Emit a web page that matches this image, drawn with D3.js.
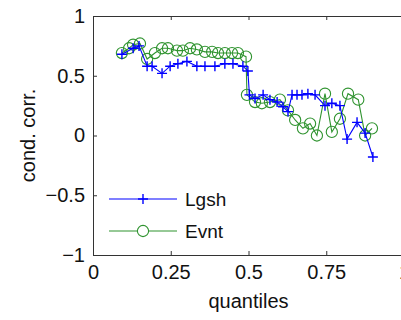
<!DOCTYPE html>
<html>
<head>
<meta charset="utf-8">
<script src="https://cdn.jsdelivr.net/npm/d3@7"></script>
<style>
  body { margin: 0; background: #fff; }
  text { font-family: "Liberation Sans", Arial, sans-serif; }
</style>
</head>
<body>
<div id="canvas"></div>
<script>
const canvWidth = 401, canvHeight = 320;

// Lgsh series (blue, plus markers)
const lgshX = [0.093, 0.129, 0.148, 0.174, 0.190, 0.222, 0.248, 0.273, 0.302, 0.334,
    0.360, 0.392, 0.424, 0.450, 0.482, 0.498, 0.503, 0.521, 0.547, 0.569,
    0.592, 0.611, 0.627, 0.640, 0.656, 0.672, 0.691, 0.714, 0.746, 0.768,
    0.794, 0.817, 0.849, 0.875, 0.900];
const lgshY = [0.68, 0.73, 0.75, 0.58, 0.58, 0.52, 0.58, 0.60, 0.62, 0.58,
    0.58, 0.58, 0.60, 0.60, 0.58, 0.54, 0.34, 0.31, 0.34, 0.30,
    0.28, 0.24, 0.20, 0.34, 0.34, 0.34, 0.35, 0.34, 0.25, 0.27,
    0.25, -0.03, 0.11, 0.02, -0.18];

// Evnt series (green, circle markers)
const evntX = [0.093, 0.116, 0.129, 0.151, 0.174, 0.199, 0.222, 0.241, 0.270, 0.289,
    0.312, 0.334, 0.360, 0.383, 0.402, 0.424, 0.447, 0.466, 0.492, 0.495,
    0.521, 0.543, 0.569, 0.601, 0.627, 0.650, 0.675, 0.698, 0.720, 0.746,
    0.768, 0.794, 0.820, 0.853, 0.875, 0.897];
const evntY = [0.69, 0.73, 0.76, 0.77, 0.64, 0.69, 0.73, 0.73, 0.71, 0.71,
    0.73, 0.72, 0.70, 0.70, 0.69, 0.69, 0.69, 0.69, 0.66, 0.34,
    0.28, 0.27, 0.28, 0.30, 0.21, 0.13, 0.06, 0.10, 0.00, 0.35,
    0.03, 0.14, 0.35, 0.30, 0.00, 0.06];

const xTicks = [0, 0.25, 0.5, 0.75, 1];
const xTickLabels = ["0", "0.25", "0.5", "0.75", "1"];
const yTicks = [-1, -0.5, 0, 0.5, 1];
const yTickLabels = ["\u22121", "\u22120.5", "0", "0.5", "1"];
const legendNames = ["Lgsh", "Evnt"];

const blue = "#0000ff", green = "#2f932f", axisColor = "#333";

const margin = {top: 16, right: -3, bottom: 65, left: 93};
const width = canvWidth - margin.left - margin.right;
const height = canvHeight - margin.top - margin.bottom;

const svg = d3.select("#canvas").append("svg")
    .attr("width", canvWidth)
    .attr("height", canvHeight);

const g = svg.append("g")
    .attr("transform", "translate(" + margin.left + "," + margin.top + ")");

const x = d3.scaleLinear().domain([0, 1]).range([0, width]);
const y = d3.scaleLinear().domain([-1, 1]).range([height, 0]);

// axes with inward ticks
const xAxis = g.append("g")
    .attr("transform", "translate(0," + height + ")")
    .call(d3.axisBottom(x).tickValues(xTicks)
        .tickFormat((d, i) => xTickLabels[i])
        .tickSize(-4).tickPadding(10));
const xTop = g.append("g")
    .call(d3.axisTop(x).tickValues(xTicks).tickFormat("").tickSize(-4));
const yAxis = g.append("g")
    .call(d3.axisLeft(y).tickValues(yTicks)
        .tickFormat((d, i) => yTickLabels[i])
        .tickSize(-4).tickPadding(8));

[xAxis, xTop, yAxis].forEach(function (a) {
    a.select(".domain").attr("stroke", axisColor);
    a.selectAll(".tick line").attr("stroke", axisColor);
    a.selectAll("text")
        .attr("fill", "#111")
        .style("font-size", "20px")
        .style("font-family", "'Liberation Sans', Arial, sans-serif");
});

// line + markers
const line = d3.line()
    .x(d => x(d[0]))
    .y(d => y(d[1]));

const lgsh = lgshX.map((v, i) => [v, lgshY[i]]);
const evnt = evntX.map((v, i) => [v, evntY[i]]);

g.append("path")
    .datum(evnt)
    .attr("d", line)
    .attr("fill", "none")
    .attr("stroke", green)
    .attr("stroke-width", 1.1);

g.selectAll(".evnt")
    .data(evnt)
    .enter().append("circle")
    .attr("class", "evnt")
    .attr("cx", d => x(d[0]))
    .attr("cy", d => y(d[1]))
    .attr("r", 5.6)
    .attr("fill", "none")
    .attr("stroke", green)
    .attr("stroke-width", 1.1);

g.append("path")
    .datum(lgsh)
    .attr("d", line)
    .attr("fill", "none")
    .attr("stroke", blue)
    .attr("stroke-width", 1.1);

const plus = "M-5,0H5M0,-5V5";
g.selectAll(".lgsh")
    .data(lgsh)
    .enter().append("path")
    .attr("class", "lgsh")
    .attr("transform", d => "translate(" + x(d[0]) + "," + y(d[1]) + ")")
    .attr("d", plus)
    .attr("stroke", blue)
    .attr("stroke-width", 1.4);

// legend
const legend = g.append("g")
    .attr("transform", "translate(16,183)");
const legendColors = [blue, green];
legendNames.forEach(function (name, i) {
    const row = legend.append("g").attr("transform", "translate(0," + (i * 32) + ")");
    row.append("line")
        .attr("x1", 0).attr("x2", 68)
        .attr("stroke", legendColors[i]).attr("stroke-width", 1.1);
    if (i === 0) {
        row.append("path").attr("transform", "translate(34,0)")
            .attr("d", plus).attr("stroke", blue).attr("stroke-width", 1.4);
    } else {
        row.append("circle").attr("cx", 34).attr("r", 5.6)
            .attr("fill", "#fff").attr("stroke", green).attr("stroke-width", 1.1);
    }
    row.append("text")
        .attr("x", 76).attr("y", 7)
        .style("font-size", "19px")
        .attr("fill", "#111")
        .text(name);
});

// axis labels
svg.append("text")
    .attr("x", margin.left + x(0.5))
    .attr("y", 308)
    .attr("text-anchor", "middle")
    .style("font-size", "20px")
    .attr("fill", "#111")
    .text("quantiles");

svg.append("text")
    .attr("transform", "translate(35," + (margin.top + y(0)) + ") rotate(-90)")
    .attr("text-anchor", "middle")
    .style("font-size", "20px")
    .attr("fill", "#111")
    .text("cond. corr.");
</script>
</body>
</html>
